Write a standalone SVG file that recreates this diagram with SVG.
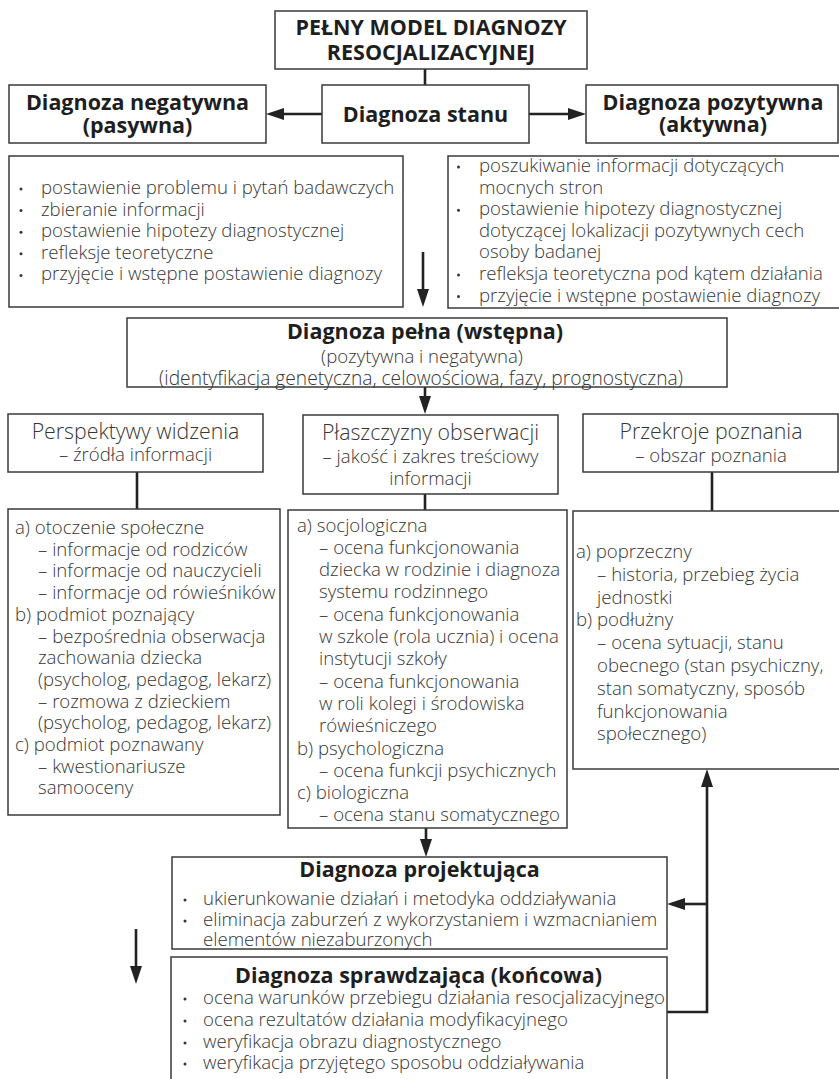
<svg xmlns="http://www.w3.org/2000/svg" width="839" height="1079" viewBox="0 0 839 1079">
<defs>
<style>
.box{fill:#fff;stroke:#3a3a3a;stroke-width:1.5}
.con{fill:none;stroke:#222;stroke-width:2.6}
.t{font-family:"Open Sans","Noto Sans",sans-serif;font-weight:300;font-size:18.6px;fill:#363636}
.h{font-family:"Open Sans","Noto Sans",sans-serif;font-weight:300;font-size:21.3px;fill:#363636}
.b{font-family:"Open Sans","Noto Sans",sans-serif;font-weight:700;font-size:21.5px;fill:#1e1e1e}
.c{text-anchor:middle}
.dot{fill:#363636}
</style>
<marker id="ah" viewBox="0 0 18 12" refX="8" refY="6" markerWidth="18" markerHeight="12" markerUnits="userSpaceOnUse" orient="auto">
<path d="M0,0 L18,6 L0,12 z" fill="#222"/>
</marker>
</defs>
<rect width="839" height="1079" fill="#fff"/>

<g id="connectors">
<line class="con" x1="425" y1="69" x2="425" y2="85"/>
<line class="con" x1="322" y1="114" x2="276" y2="114" marker-end="url(#ah)"/>
<line class="con" x1="529" y1="114" x2="576" y2="114" marker-end="url(#ah)"/>
<line class="con" x1="423" y1="252" x2="423" y2="297" marker-end="url(#ah)"/>
<line class="con" x1="425" y1="387" x2="425" y2="404" marker-end="url(#ah)"/>
<line class="con" x1="137" y1="472" x2="137" y2="509"/>
<line class="con" x1="425" y1="494" x2="425" y2="510"/>
<line class="con" x1="712" y1="472" x2="712" y2="511"/>
<line class="con" x1="426" y1="828" x2="426" y2="847" marker-end="url(#ah)"/>
<line class="con" x1="136" y1="929" x2="136" y2="974" marker-end="url(#ah)"/>
<polyline class="con" points="667,1012 707,1012 707,779" marker-end="url(#ah)"/>
<line class="con" x1="707" y1="904" x2="677" y2="904" marker-end="url(#ah)"/>
</g>

<g id="title">
<rect class="box" x="275" y="11" width="312" height="58"/>
<text class="b c" x="431" y="35">PEŁNY MODEL DIAGNOZY</text>
<text class="b c" x="431" y="60">RESOCJALIZACYJNEJ</text>
</g>

<g id="negatywna">
<rect class="box" x="9" y="85" width="257" height="58"/>
<text class="b c" x="137.5" y="110">Diagnoza negatywna</text>
<text class="b c" x="137.5" y="133">(pasywna)</text>
</g>

<g id="stanu">
<rect class="box" x="322" y="85" width="207" height="58"/>
<text class="b c" x="425.5" y="122">Diagnoza stanu</text>
</g>

<g id="pozytywna">
<rect class="box" x="586" y="85" width="252" height="58"/>
<text class="b c" x="713" y="110">Diagnoza pozytywna</text>
<text class="b c" x="713" y="132">(aktywna)</text>
</g>

<g id="negatywna-lista">
<rect class="box" x="9" y="156" width="394" height="151"/>
<circle class="dot" cx="21" cy="189" r="1.5"/>
<circle class="dot" cx="21" cy="210.6" r="1.5"/>
<circle class="dot" cx="21" cy="232.2" r="1.5"/>
<circle class="dot" cx="21" cy="253.8" r="1.5"/>
<circle class="dot" cx="21" cy="275.4" r="1.5"/>
<text class="t" x="41" y="194">postawienie problemu i pytań badawczych</text>
<text class="t" x="41" y="215.6">zbieranie informacji</text>
<text class="t" x="41" y="237.2">postawienie hipotezy diagnostycznej</text>
<text class="t" x="41" y="258.8">refleksje teoretyczne</text>
<text class="t" x="41" y="280.4">przyjęcie i wstępne postawienie diagnozy</text>
</g>

<g id="pozytywna-lista">
<rect class="box" x="448" y="156" width="400" height="152"/>
<circle class="dot" cx="458.5" cy="167" r="1.5"/>
<circle class="dot" cx="458.5" cy="210.2" r="1.5"/>
<circle class="dot" cx="458.5" cy="275" r="1.5"/>
<circle class="dot" cx="458.5" cy="296.6" r="1.5"/>
<text class="t" x="479" y="172">poszukiwanie informacji dotyczących</text>
<text class="t" x="479" y="193.6">mocnych stron</text>
<text class="t" x="479" y="215.2">postawienie hipotezy diagnostycznej</text>
<text class="t" x="479" y="236.8">dotyczącej lokalizacji pozytywnych cech</text>
<text class="t" x="479" y="258.4">osoby badanej</text>
<text class="t" x="479" y="280">refleksja teoretyczna pod kątem działania</text>
<text class="t" x="479" y="301.6">przyjęcie i wstępne postawienie diagnozy</text>
</g>

<g id="pelna">
<rect class="box" x="127" y="318" width="600" height="69"/>
<text class="b c" x="425" y="339">Diagnoza pełna (wstępna)</text>
<text class="t c" x="422" y="363">(pozytywna i negatywna)</text>
<text class="t c" x="421" y="385" style="font-size:19.2px">(identyfikacja genetyczna, celowościowa, fazy, prognostyczna)</text>
</g>

<g id="perspektywy">
<rect class="box" x="8" y="414" width="255" height="58"/>
<text class="h c" x="135.5" y="439">Perspektywy widzenia</text>
<text class="t c" x="135.5" y="461">– źródła informacji</text>
</g>

<g id="plaszczyzny">
<rect class="box" x="303" y="415" width="255" height="79"/>
<text class="h c" x="430.5" y="440">Płaszczyzny obserwacji</text>
<text class="t c" x="430.5" y="463">– jakość i zakres treściowy</text>
<text class="t c" x="430.5" y="485">informacji</text>
</g>

<g id="przekroje">
<rect class="box" x="583" y="414" width="255" height="58"/>
<text class="h c" x="711" y="439">Przekroje poznania</text>
<text class="t c" x="711" y="462">– obszar poznania</text>
</g>

<g id="perspektywy-lista">
<rect class="box" x="8" y="509" width="272" height="306"/>
<text class="t" x="15" y="534">a) otoczenie społeczne</text>
<text class="t" x="38" y="555.7">– informacje od rodziców</text>
<text class="t" x="38" y="577.4">– informacje od nauczycieli</text>
<text class="t" x="38" y="599.1">– informacje od rówieśników</text>
<text class="t" x="15" y="620.8">b) podmiot poznający</text>
<text class="t" x="38" y="642.5">– bezpośrednia obserwacja</text>
<text class="t" x="38" y="664.2">zachowania dziecka</text>
<text class="t" x="38" y="685.9">(psycholog, pedagog, lekarz)</text>
<text class="t" x="38" y="707.6">– rozmowa z dzieckiem</text>
<text class="t" x="38" y="729.3">(psycholog, pedagog, lekarz)</text>
<text class="t" x="15" y="751">c) podmiot poznawany</text>
<text class="t" x="38" y="772.7">– kwestionariusze</text>
<text class="t" x="38" y="794.4">samooceny</text>
</g>

<g id="plaszczyzny-lista">
<rect class="box" x="288" y="510" width="279" height="318"/>
<text class="t" x="297" y="531.5">a) socjologiczna</text>
<text class="t" x="319" y="553.8">– ocena funkcjonowania</text>
<text class="t" x="319" y="576.1">dziecka w rodzinie i diagnoza</text>
<text class="t" x="319" y="598.4">systemu rodzinnego</text>
<text class="t" x="319" y="620.7">– ocena funkcjonowania</text>
<text class="t" x="319" y="643">w szkole (rola ucznia) i ocena</text>
<text class="t" x="319" y="665.3">instytucji szkoły</text>
<text class="t" x="319" y="687.6">– ocena funkcjonowania</text>
<text class="t" x="319" y="709.9">w roli kolegi i środowiska</text>
<text class="t" x="319" y="732.2">rówieśniczego</text>
<text class="t" x="297" y="754.5">b) psychologiczna</text>
<text class="t" x="319" y="776.8">– ocena funkcji psychicznych</text>
<text class="t" x="297" y="799.1">c) biologiczna</text>
<text class="t" x="319" y="821.4">– ocena stanu somatycznego</text>
</g>

<g id="przekroje-lista">
<rect class="box" x="573" y="511" width="275" height="258"/>
<text class="t" x="576" y="558">a) poprzeczny</text>
<text class="t" x="597" y="580.8">– historia, przebieg życia</text>
<text class="t" x="597" y="603.6">jednostki</text>
<text class="t" x="576" y="626.4">b) podłużny</text>
<text class="t" x="597" y="649.2">– ocena sytuacji, stanu</text>
<text class="t" x="597" y="672">obecnego (stan psychiczny,</text>
<text class="t" x="597" y="694.8">stan somatyczny, sposób</text>
<text class="t" x="597" y="717.6">funkcjonowania</text>
<text class="t" x="597" y="740.4">społecznego)</text>
</g>

<g id="projektujaca">
<rect class="box" x="172" y="857" width="495" height="92"/>
<text class="b c" x="419.5" y="877">Diagnoza projektująca</text>
<circle class="dot" cx="185" cy="900" r="1.5"/>
<circle class="dot" cx="185" cy="921" r="1.5"/>
<text class="t" x="203" y="905">ukierunkowanie działań i metodyka oddziaływania</text>
<text class="t" x="203" y="926">eliminacja zaburzeń z wykorzystaniem i wzmacnianiem</text>
<text class="t" x="203" y="946">elementów niezaburzonych</text>
</g>

<g id="sprawdzajaca">
<rect class="box" x="171" y="957" width="496" height="130"/>
<text class="b c" x="418.5" y="983">Diagnoza sprawdzająca (końcowa)</text>
<circle class="dot" cx="185" cy="999" r="1.5"/>
<circle class="dot" cx="185" cy="1021" r="1.5"/>
<circle class="dot" cx="185" cy="1043" r="1.5"/>
<circle class="dot" cx="185" cy="1064" r="1.5"/>
<text class="t" x="203" y="1004">ocena warunków przebiegu działania resocjalizacyjnego</text>
<text class="t" x="203" y="1026">ocena rezultatów działania modyfikacyjnego</text>
<text class="t" x="203" y="1048">weryfikacja obrazu diagnostycznego</text>
<text class="t" x="203" y="1069">weryfikacja przyjętego sposobu oddziaływania</text>
</g>
</svg>
